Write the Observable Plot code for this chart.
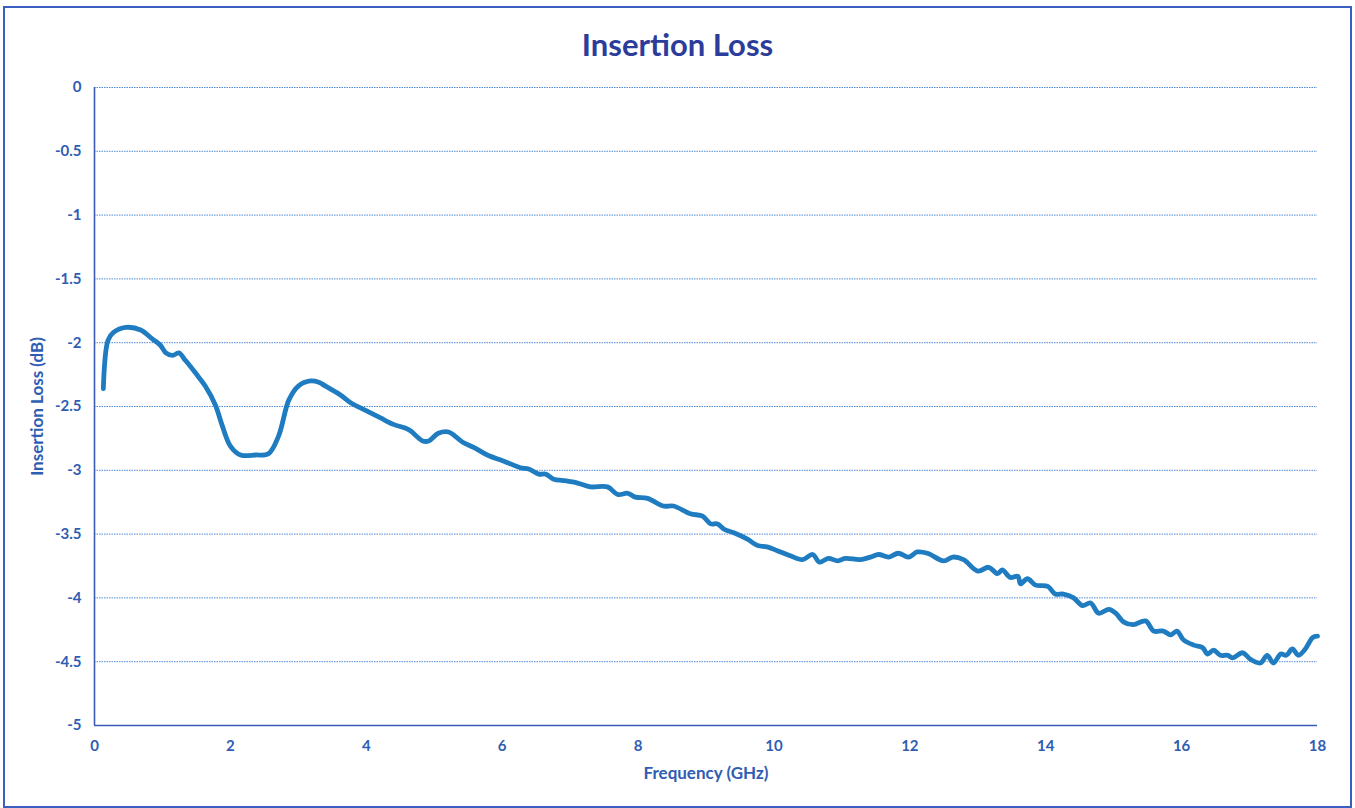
<!DOCTYPE html>
<html>
<head>
<meta charset="utf-8">
<script src="https://cdn.jsdelivr.net/npm/d3@7"></script>
<script src="https://cdn.jsdelivr.net/npm/@observablehq/plot@0.6"></script>
<style>
  html, body { margin: 0; padding: 0; background: #fff; }
  #wrap { position: relative; width: 1355px; height: 808px; overflow: hidden; }
  #frame { position: absolute; left: 3px; top: 6px; width: 1345px; height: 798px; border: 2px solid #3a5fc0; box-sizing: content-box; }
  #title { position: absolute; left: 0; width: 1355px; top: 25px; text-align: center; font-family: Lato, "Open Sans", sans-serif; font-weight: bold; font-size: 31px; color: #2b3c9a; }
  #chart { position: absolute; left: 0; top: 0; }
</style>
</head>
<body>
<div id="wrap">
  <div id="frame"></div>
  <div id="title">Insertion Loss</div>
  <div id="chart"></div>
</div>
<script>
const frequencyGHz = [
  0.13, 0.20, 0.28, 0.46, 0.68, 0.85, 0.97, 1.05, 1.15, 1.24, 1.34, 1.49, 1.63, 1.78, 1.88,
  2.00, 2.15, 2.37, 2.56, 2.71, 2.86, 3.00, 3.18, 3.30, 3.40, 3.62, 3.77, 3.99, 4.21, 4.40,
  4.58, 4.65, 4.83, 4.92, 5.06, 5.21, 5.42, 5.58, 5.78, 5.98, 6.08, 6.27, 6.39, 6.54, 6.64,
  6.76, 6.90, 7.11, 7.30, 7.55, 7.70, 7.85, 7.96, 8.14, 8.37, 8.52, 8.77, 8.95, 9.07, 9.17,
  9.26, 9.41, 9.61, 9.76, 9.90, 10.05, 10.10, 10.24, 10.42, 10.57, 10.67, 10.80, 10.94, 11.05,
  11.27, 11.42, 11.54, 11.69, 11.83, 11.98, 12.11, 12.26, 12.50, 12.63, 12.79, 13.00, 13.16,
  13.29, 13.36, 13.48, 13.59, 13.63, 13.73, 13.85, 14.03, 14.14, 14.26, 14.41, 14.54, 14.66,
  14.78, 14.93, 15.03, 15.15, 15.29, 15.47, 15.59, 15.73, 15.84, 15.93, 16.03, 16.18, 16.31,
  16.38, 16.47, 16.57, 16.68, 16.75, 16.90, 17.01, 17.16, 17.26, 17.35, 17.46, 17.54, 17.63,
  17.72, 17.82, 17.93, 18.00
];
const insertionLossDb = [
  -2.36, -1.98, -1.92, -1.88, -1.90, -1.97, -2.02, -2.08, -2.10, -2.08, -2.14, -2.24, -2.34, -2.49, -2.65,
  -2.81, -2.88, -2.88, -2.87, -2.73, -2.45, -2.34, -2.30, -2.31, -2.34, -2.41, -2.47, -2.53, -2.59, -2.64,
  -2.67, -2.69, -2.77, -2.77, -2.71, -2.70, -2.78, -2.82, -2.88, -2.92, -2.94, -2.98, -2.99, -3.03, -3.03,
  -3.07, -3.08, -3.10, -3.13, -3.13, -3.19, -3.18, -3.21, -3.22, -3.28, -3.28, -3.34, -3.36, -3.42, -3.42,
  -3.46, -3.49, -3.54, -3.59, -3.60, -3.63, -3.64, -3.67, -3.70, -3.66, -3.72, -3.69, -3.71, -3.69,
  -3.70, -3.68, -3.66, -3.68, -3.65, -3.68, -3.64, -3.65, -3.71, -3.68, -3.70, -3.79, -3.76,
  -3.81, -3.78, -3.84, -3.83, -3.89, -3.85, -3.90, -3.91, -3.97, -3.97, -4.00, -4.06, -4.04,
  -4.12, -4.09, -4.12, -4.19, -4.21, -4.18, -4.26, -4.26, -4.29, -4.26, -4.33, -4.37, -4.39,
  -4.44, -4.41, -4.45, -4.45, -4.47, -4.43, -4.48, -4.51, -4.45, -4.51, -4.44, -4.45, -4.40,
  -4.45, -4.40, -4.31, -4.30
];
const xTicks = [0, 2, 4, 6, 8, 10, 12, 14, 16, 18];
const yTicks = [0, -0.5, -1, -1.5, -2, -2.5, -3, -3.5, -4, -4.5, -5];
const xTitle = "Frequency (GHz)";
const yTitle = "Insertion Loss (dB)";

const data = frequencyGHz.map((f, i) => ({f, v: insertionLossDb[i]}));
const textColor = "#2f5db3";
const axisColor = "#3a5cb8";

const chart = Plot.plot({
  width: 1355,
  height: 808,
  marginLeft: 94,
  marginRight: 38,
  marginTop: 87,
  marginBottom: 83,
  style: {fontFamily: "Lato, 'Open Sans', sans-serif", fontSize: "15px", fontWeight: "bold", color: textColor, background: "transparent"},
  x: {domain: [0, 18]},
  y: {domain: [-5, 0]},
  marks: [
    Plot.gridY(yTicks.filter(d => d !== -5), {stroke: "#3f7fd0", strokeOpacity: 0.9, strokeWidth: 1, strokeDasharray: "1.5,1"}),
    Plot.ruleX([0], {stroke: axisColor, strokeWidth: 1.6}),
    Plot.ruleY([-5], {stroke: axisColor, strokeWidth: 1.6}),
    Plot.axisX(xTicks, {tickSize: 0, tickPadding: 15, fontSize: 15, label: null, fill: textColor}),
    Plot.axisY(yTicks, {tickSize: 0, tickPadding: 13, fontSize: 15, tickFormat: d => String(d), label: null, fill: textColor}),
    Plot.text([xTitle], {frameAnchor: "bottom", dy: 53, fontSize: 17, fontWeight: "bold", fill: textColor}),
    Plot.text([yTitle], {frameAnchor: "left", textAnchor: "middle", dx: -57, rotate: -90, fontSize: 17, fontWeight: "bold", fill: textColor}),
    Plot.line(data, {x: "f", y: "v", stroke: "#1f7cc0", strokeWidth: 4.8, curve: "catmull-rom"})
  ]
});
document.getElementById("chart").appendChild(chart);
</script>
</body>
</html>
